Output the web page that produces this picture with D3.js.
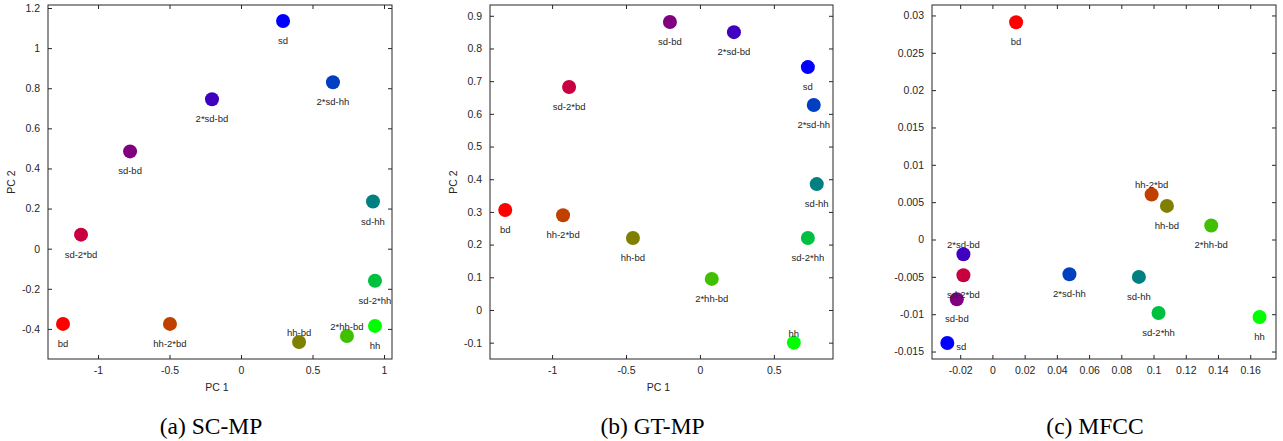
<!DOCTYPE html>
<html>
<head>
<meta charset="utf-8">
<script src="https://cdn.jsdelivr.net/npm/d3@7"></script>
<style>
  body { margin: 0; background: #fff; }
  .tick text, .ptLabel, .axisTitle { font-family: "Liberation Sans", Arial, sans-serif; fill: #262626; }
  .caption { font-family: "Liberation Serif", "Times New Roman", serif; fill: #000; }
</style>
</head>
<body>
<svg id="chart" width="1283" height="441"></svg>
<script>
/* the twelve mixtures, same order in every panel */
var names = ["bd", "sd-2*bd", "hh-2*bd", "hh-bd", "2*hh-bd", "hh",
             "sd-2*hh", "sd-hh", "2*sd-hh", "sd", "2*sd-bd", "sd-bd"]
var colors = ["#ff0000", "#c80040", "#c04000", "#808000", "#40c000", "#00ff00",
              "#00c040", "#008080", "#0040c0", "#0000ff", "#4000c0", "#800080"]

/* (a) SC-MP */
var scX = [-1.245, -1.119, -0.497, 0.406, 0.741, 0.937, 0.937, 0.923, 0.643, 0.294, -0.203, -0.776]
var scY = [-0.375, 0.07, -0.375, -0.465, -0.435, -0.385, -0.16, 0.235, 0.83, 1.135, 0.745, 0.485]
var scSide = ["b", "b", "b", "a", "a", "b", "b", "b", "b", "b", "b", "b"]
var scXTicks = [-1, -0.5, 0, 0.5, 1]
var scYTicks = [-0.4, -0.2, 0, 0.2, 0.4, 0.6, 0.8, 1, 1.2]

/* (b) GT-MP */
var gtX = [-1.317, -0.885, -0.926, -0.453, 0.08, 0.635, 0.73, 0.79, 0.77, 0.73, 0.23, -0.203]
var gtY = [0.306, 0.682, 0.29, 0.22, 0.095, -0.1, 0.22, 0.385, 0.627, 0.743, 0.85, 0.881]
var gtSide = ["b", "b", "b", "b", "b", "a", "b", "b", "b", "b", "b", "b"]
var gtXTicks = [-1, -0.5, 0, 0.5]
var gtYTicks = [-0.1, 0, 0.1, 0.2, 0.3, 0.4, 0.5, 0.6, 0.7, 0.8, 0.9]

/* (c) MFCC */
var mfX = [0.0147, -0.018, 0.0988, 0.1083, 0.1358, 0.1658, 0.1031, 0.0909, 0.0478, -0.028, -0.018, -0.0221]
var mfY = [0.0291, -0.00479, 0.00603, 0.0045, 0.00188, -0.01037, -0.00984, -0.00501, -0.00465, -0.01386, -0.00197, -0.008]
var mfSide = ["b", "b", "a", "b", "b", "b", "b", "b", "b", "r", "a", "b"]
var mfXTicks = [-0.02, 0, 0.02, 0.04, 0.06, 0.08, 0.1, 0.12, 0.14, 0.16]
var mfYTicks = [-0.015, -0.01, -0.005, 0, 0.005, 0.01, 0.015, 0.02, 0.025, 0.03]

var panels = [
  {xs: scX, ys: scY, side: scSide, xt: scXTicks, yt: scYTicks,
   xdom: [-1.35, 1.056], ydom: [-0.55, 1.215], box: [48, 5, 392, 359],
   titles: true, caption: "(a) SC-MP"},
  {xs: gtX, ys: gtY, side: gtSide, xt: gtXTicks, yt: gtYTicks,
   xdom: [-1.42, 0.9], ydom: [-0.15, 0.933], box: [490, 5, 833, 359],
   titles: true, caption: "(b) GT-MP"},
  {xs: mfX, ys: mfY, side: mfSide, xt: mfXTicks, yt: mfYTicks,
   xdom: [-0.0375, 0.176], ydom: [-0.016, 0.0314], box: [932, 5, 1276, 359],
   titles: false, caption: "(c) MFCC"}
]

var svg = d3.select("#chart")

function fmt(d) {
  return String(+d.toFixed(4))
}

function drawPanel(p) {
  var left = p.box[0], top = p.box[1], right = p.box[2], bottom = p.box[3]
  var x = d3.scaleLinear().domain(p.xdom).range([left, right])
  var y = d3.scaleLinear().domain(p.ydom).range([bottom, top])
  var g = svg.append("g")

  // inward ticks on all four sides, like matlab
  var axes = [
    {ax: d3.axisBottom(x).tickValues(p.xt).tickFormat(fmt), t: "translate(0," + bottom + ")"},
    {ax: d3.axisTop(x).tickValues(p.xt).tickFormat(""), t: "translate(0," + top + ")"},
    {ax: d3.axisLeft(y).tickValues(p.yt).tickFormat(fmt), t: "translate(" + left + ",0)"},
    {ax: d3.axisRight(y).tickValues(p.yt).tickFormat(""), t: "translate(" + right + ",0)"}
  ]
  axes.forEach(function(a) {
    var ag = g.append("g")
      .attr("transform", a.t)
      .call(a.ax.tickSizeInner(-4).tickSizeOuter(0).tickPadding(8))
    ag.select(".domain").remove()
    ag.selectAll("line").attr("stroke", "#262626")
    ag.selectAll("text").attr("font-size", 10.5)
  })

  g.append("rect")
    .attr("x", left).attr("y", top)
    .attr("width", right - left).attr("height", bottom - top)
    .attr("fill", "none").attr("stroke", "#262626").attr("stroke-width", 1)

  var pts = p.xs.map(function(v, i) {
    return {x: v, y: p.ys[i], name: names[i], color: colors[i], side: p.side[i]}
  })

  g.selectAll("circle.pt").data(pts).enter()
    .append("circle")
    .attr("class", "pt")
    .attr("cx", function(d) { return x(d.x) })
    .attr("cy", function(d) { return y(d.y) })
    .attr("r", 7)
    .attr("fill", function(d) { return d.color })

  g.selectAll("text.ptLabel").data(pts).enter()
    .append("text")
    .attr("class", "ptLabel")
    .attr("font-size", 9.5)
    .attr("text-anchor", function(d) { return d.side == "r" ? "start" : "middle" })
    .attr("x", function(d) { return d.side == "r" ? x(d.x) + 9 : x(d.x) })
    .attr("y", function(d) {
      if (d.side == "a") return y(d.y) - 6
      if (d.side == "r") return y(d.y) + 7
      return y(d.y) + 23
    })
    .text(function(d) { return d.name })

  if (p.titles) {
    g.append("text").attr("class", "axisTitle")
      .attr("font-size", 10.5).attr("text-anchor", "middle")
      .attr("x", (left + right) / 2 - 3).attr("y", 391)
      .text("PC 1")
    g.append("text").attr("class", "axisTitle")
      .attr("font-size", 10.5).attr("text-anchor", "middle")
      .attr("transform", "translate(" + (left - 33) + "," + ((top + bottom) / 2) + ") rotate(-90)")
      .text("PC 2")
  }

  g.append("text").attr("class", "caption")
    .attr("font-size", 23.5).attr("text-anchor", "middle")
    .attr("x", (left + right) / 2 - 9).attr("y", 434)
    .text(p.caption)
}

panels.forEach(drawPanel)
</script>
</body>
</html>
